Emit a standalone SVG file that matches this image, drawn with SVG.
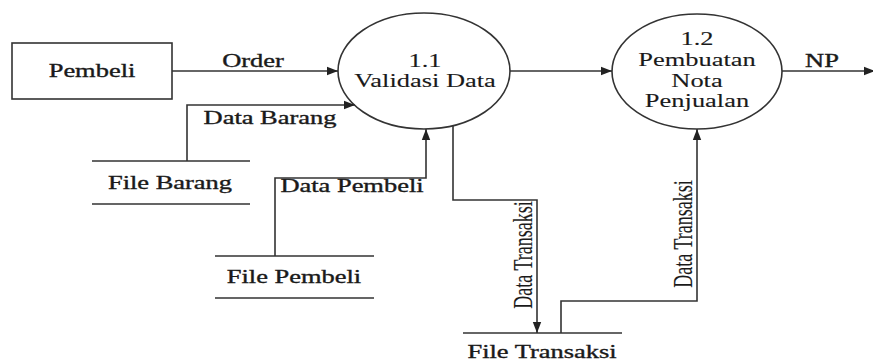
<svg xmlns="http://www.w3.org/2000/svg" width="873" height="363" viewBox="0 0 873 363">
<style>
.s{fill:none;stroke:#333;stroke-width:1.6}
.t{font-family:"Liberation Serif","Times New Roman",serif;font-size:18px;fill:#1a1a1a;stroke:#1a1a1a;stroke-width:0.35;text-anchor:middle}
.p{stroke-width:0.1}
</style>
<defs>
<marker id="ah" markerUnits="userSpaceOnUse" markerWidth="12" markerHeight="10" refX="11" refY="5" orient="auto">
<path d="M0,0.8 L11,5 L0,9.2 Z" fill="#222"/>
</marker>
</defs>
<rect width="873" height="363" fill="#fff"/>
<g id="pembeli">
<rect class="s" x="12" y="43" width="160" height="56"/>
<g transform="translate(92,0) scale(1.47,1)"><text class="t" x="0" y="77">Pembeli</text></g>
</g>
<g id="p11">
<ellipse class="s" cx="424" cy="71" rx="86" ry="58"/>
<g transform="translate(425,0) scale(1.47,1)"><text class="t p" x="0" y="67">1.1</text><text class="t p" x="0" y="87">Validasi Data</text></g>
</g>
<g id="p12">
<ellipse class="s" cx="697" cy="71.5" rx="85" ry="57.5"/>
<g transform="translate(697,0) scale(1.47,1)"><text class="t p" x="0" y="45">1.2</text><text class="t p" x="0" y="66">Pembuatan</text><text class="t p" x="0" y="87">Nota</text><text class="t p" x="0" y="107">Penjualan</text></g>
</g>
<g id="filebarang">
<path class="s" d="M92 161H250M92 204H250"/>
<g transform="translate(170,0) scale(1.47,1)"><text class="t" x="0" y="189">File Barang</text></g>
</g>
<g id="filepembeli">
<path class="s" d="M215 256H374M215 298H374"/>
<g transform="translate(294,0) scale(1.47,1)"><text class="t" x="0" y="283">File Pembeli</text></g>
</g>
<g id="filetransaksi">
<path class="s" d="M463 333H622"/>
<g transform="translate(542,0) scale(1.47,1)"><text class="t" x="0" y="358">File Transaksi</text></g>
</g>
<g id="connectors">
<path class="s" d="M172 71H338" marker-end="url(#ah)"/>
<path class="s" d="M510 71H612" marker-end="url(#ah)"/>
<path class="s" d="M782 71H875" marker-end="url(#ah)"/>
<path class="s" d="M187 161V105H355" marker-end="url(#ah)"/>
<path class="s" d="M275 256V178H426V129" marker-end="url(#ah)"/>
<path class="s" d="M453 126V200H537V333" marker-end="url(#ah)"/>
<path class="s" d="M561 333V301H697V129" marker-end="url(#ah)"/>
<g transform="translate(253,0) scale(1.47,1)"><text class="t" x="0" y="67">Order</text></g>
<g transform="translate(822,0) scale(1.47,1)"><text class="t" x="0" y="67">NP</text></g>
<g transform="translate(270,0) scale(1.47,1)"><text class="t" x="0" y="124">Data Barang</text></g>
<g transform="translate(352,0) scale(1.47,1)"><text class="t" x="0" y="192">Data Pembeli</text></g>
<g transform="translate(532,255) scale(1.47,1) rotate(-90)"><text class="t p" x="0" y="0">Data Transaksi</text></g>
<g transform="translate(692,234) scale(1.47,1) rotate(-90)"><text class="t p" x="0" y="0">Data Transaksi</text></g>
</g>
</svg>
